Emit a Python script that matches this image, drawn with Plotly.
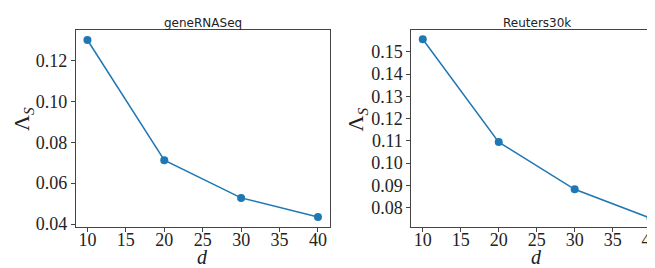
import plotly.graph_objects as go

d_values = [10, 20, 30, 40]
gene_values = [0.1300, 0.0712, 0.0528, 0.0434]
reuters_values = [0.1556, 0.1094, 0.0882, 0.0752]
titles = ["geneRNASeq", "Reuters30k"]
gene_ticks = [0.04, 0.06, 0.08, 0.10, 0.12]
reuters_ticks = [0.08, 0.09, 0.10, 0.11, 0.12, 0.13, 0.14, 0.15]
x_ticks = [10, 15, 20, 25, 30, 35, 40]

W, H = 655, 268
blue = "#1f77b4"
tick_font = dict(family="Liberation Serif", size=18, color="#222")

fig = go.Figure()
fig.add_trace(go.Scatter(x=d_values, y=gene_values, mode="lines+markers",
                         line=dict(color=blue, width=1.5), marker=dict(color=blue, size=8),
                         xaxis="x", yaxis="y", showlegend=False))
fig.add_trace(go.Scatter(x=d_values, y=reuters_values, mode="lines+markers",
                         line=dict(color=blue, width=1.5), marker=dict(color=blue, size=8),
                         xaxis="x2", yaxis="y2", showlegend=False))

ydom = [1 - 225 / H, 1 - 23 / H]
axis_common = dict(showgrid=False, zeroline=False, showline=True, mirror=True,
                   linecolor="#444", linewidth=1, ticks="outside", ticklen=4,
                   tickcolor="#444", tickwidth=1, tickfont=tick_font)

def fmt(v, n):
    return f"{v:.{n}f}"

fig.update_layout(
    width=W, height=H, margin=dict(l=0, r=0, t=0, b=0),
    paper_bgcolor="white", plot_bgcolor="white",
    xaxis=dict(domain=[68 / W, 322 / W], range=[8.5, 41.5], tickvals=x_ticks,
               ticktext=[str(v) for v in x_ticks], anchor="y", ticklabelstandoff=-8,
               **axis_common),
    yaxis=dict(domain=ydom, range=[0.0385, 0.1347], tickvals=gene_ticks,
               ticktext=[fmt(v, 2) for v in gene_ticks], anchor="x", **axis_common),
    xaxis2=dict(domain=[404 / W, 1.0], range=[8.5, 41.5], tickvals=x_ticks,
                ticktext=[str(v) for v in x_ticks], anchor="y2", ticklabelstandoff=-8,
                **axis_common),
    yaxis2=dict(domain=ydom, range=[0.0712, 0.1596], tickvals=reuters_ticks,
                ticktext=[fmt(v, 2) for v in reuters_ticks], anchor="x2", **axis_common),
)

title_font = dict(family="DejaVu Sans", size=12, color="#222")
label_font = dict(family="Liberation Serif", size=22, color="#222")
d_font = dict(family="Liberation Serif", size=20, color="#222")
for xc, t in [((68 + 322) / 2 / W, titles[0]), ((404 + 655) / 2 / W, titles[1])]:
    fig.add_annotation(x=xc, y=1 - 15 / H, xref="paper", yref="paper", text=t,
                       showarrow=False, font=title_font, xanchor="center", yanchor="middle")
for xc in [(68 + 322) / 2 / W, (404 + 655) / 2 / W]:
    fig.add_annotation(x=xc, y=0, xref="paper", yref="paper", text="<i>d</i>",
                       showarrow=False, font=d_font, xanchor="center", yanchor="bottom",
                       borderpad=0)
for xc in [15 / W, 350 / W]:
    fig.add_annotation(x=xc, y=1 - 114 / H, xref="paper", yref="paper",
                       text="Λ<sub><i>S</i></sub>", textangle=-90,
                       showarrow=False, font=label_font, xanchor="center", yanchor="middle")

fig.write_html("out.html")
